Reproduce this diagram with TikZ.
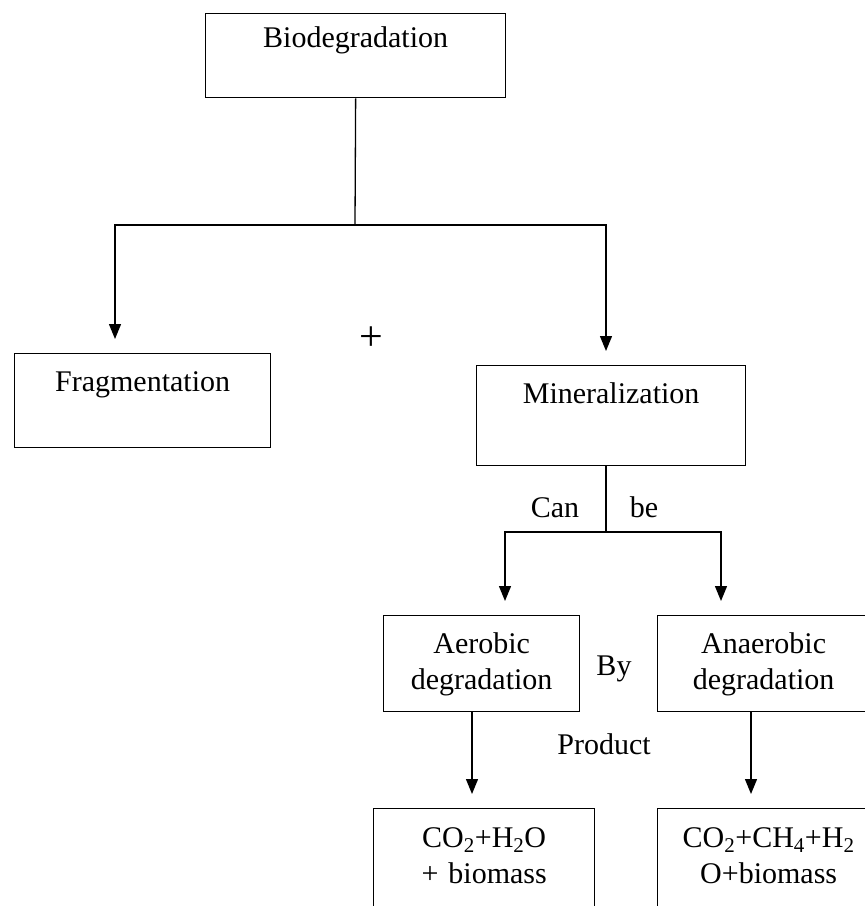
\documentclass[tikz,border=0pt]{standalone}
\usepackage{fontspec}
\setmainfont{Liberation Serif}
\usetikzlibrary{arrows.meta}
\begin{document}
\begin{tikzpicture}[x=1pt,y=-1pt,line width=1.3pt,
    font=\fontsize{30}{36}\selectfont,
    box/.style={draw,inner sep=0pt,align=center,anchor=north west},
    arr/.style={-{Triangle[length=15pt,width=12pt]},shorten >=14pt}]

    \clip (0,0) rectangle (865,906);

    \node[box,text width=300pt,text height=34pt,text depth=50pt] (bio) at (205,13) {Biodegradation};
    \node[box,text width=256pt,text height=38pt,text depth=56pt] (frag) at (14,353) {Fragmentation};
    \node[box,text width=269pt,text height=38pt,text depth=62pt] (mineral) at (476,365) {Mineralization};
    \node[box,text width=196pt,text height=38pt,text depth=58pt] (aerobic) at (383,615) {Aerobic\\degradation};
    \node[box,text width=212pt,text height=38pt,text depth=58pt] (anaerobic) at (657,615) {Anaerobic\\degradation};
    \node[box,text width=221pt,text height=39pt,text depth=130pt] (prodA) at (373,808) {CO\textsubscript{2}+H\textsubscript{2}O\\+ biomass};
    \node[box,text width=222pt,text height=39pt,text depth=130pt] (prodB) at (657,808) {CO\textsubscript{2}+CH\textsubscript{4}+H\textsubscript{2}\\O+biomass};

    \coordinate (split1) at (355,225);
    \coordinate (split2) at (606,532);

    \draw (bio.south) -- (split1);
    \draw[arr] (split1) -| ([xshift=101pt]frag.north west);
    \draw[arr] (split1) -| ([xshift=130pt]mineral.north west);
    \draw ([xshift=130pt]mineral.south west) -- (split2);
    \draw[arr] (split2) -| ([xshift=122pt]aerobic.north west);
    \draw[arr] (split2) -| ([xshift=64pt]anaerobic.north west);
    \draw[arr] ([xshift=89pt]aerobic.south west) -- ([xshift=99pt]prodA.north west);
    \draw[arr] ([xshift=94pt]anaerobic.south west) -- ([xshift=94pt]prodB.north west);

    \node[anchor=base,font=\fontsize{42}{42}\selectfont] (plus) at (371,350) {+};
    \node[anchor=base] (can) at (555,517) {Can};
    \node[anchor=base] (be) at (644,517) {be};
    \node[anchor=base] (by) at (614,675) {By};
    \node[anchor=base] (product) at (604,754) {Product};

\end{tikzpicture}
\end{document}
